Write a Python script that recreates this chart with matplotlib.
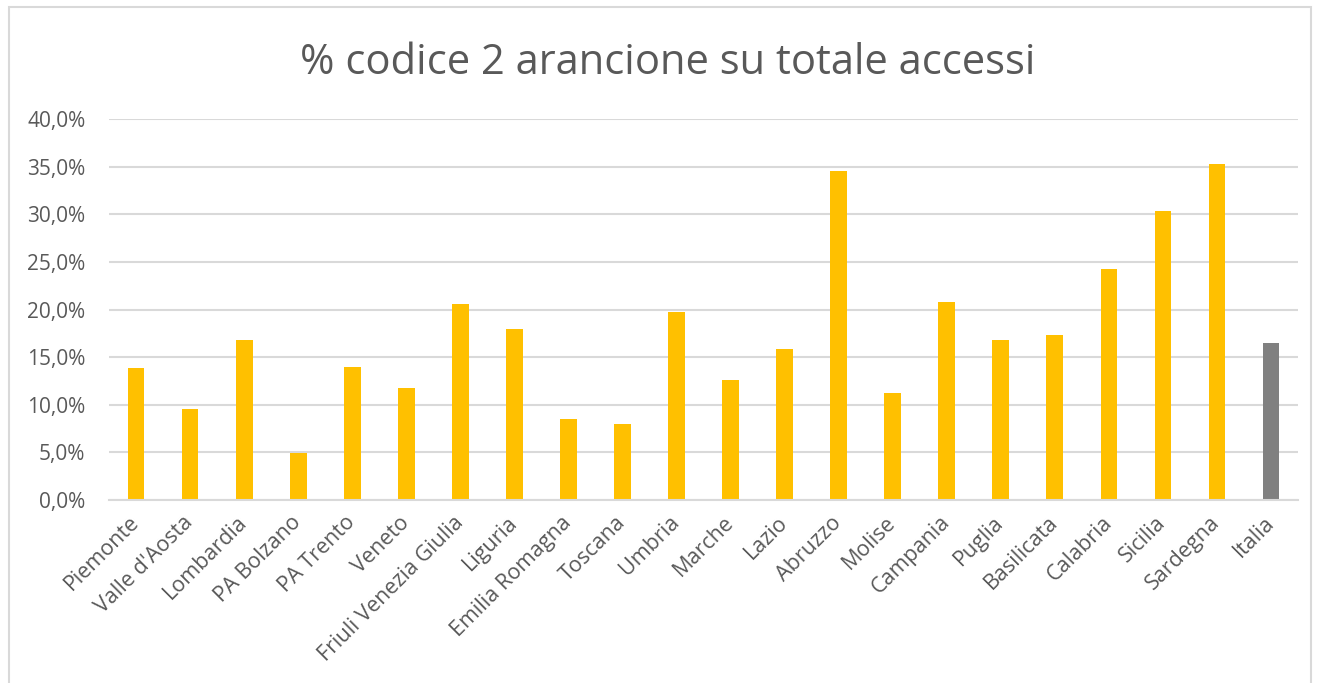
import matplotlib
matplotlib.use("Agg")
import matplotlib.pyplot as plt
from matplotlib.patches import Rectangle
from matplotlib.ticker import FuncFormatter

plt.rcParams['font.family'] = ['Open Sans', 'DejaVu Sans']

regioni = ["Piemonte", "Valle d'Aosta", "Lombardia", "PA Bolzano", "PA Trento",
           "Veneto", "Friuli Venezia Giulia", "Liguria", "Emilia Romagna",
           "Toscana", "Umbria", "Marche", "Lazio", "Abruzzo", "Molise",
           "Campania", "Puglia", "Basilicata", "Calabria", "Sicilia",
           "Sardegna", "Italia"]
perc_codice2 = [13.9, 9.6, 16.8, 4.9, 14.0, 11.8, 20.6, 18.0, 8.5, 8.0, 19.7,
                12.6, 15.9, 34.5, 11.2, 20.8, 16.8, 17.3, 24.3, 30.3, 35.3, 16.5]

colori = ['#FFC000'] * (len(regioni) - 1) + ['#808080']
testo = '#595959'
griglia = '#D9D9D9'

fig = plt.figure(figsize=(13.17, 6.83), dpi=100)
ax = fig.add_axes([0.0828, 0.2679, 0.9028, 0.5579])

x = range(len(regioni))
ax.bar(x, [v / 100 for v in perc_codice2], width=0.31, color=colori, zorder=3)

ax.set_xlim(-0.5, len(regioni) - 0.5)
ax.set_ylim(0, 0.40)
ax.set_yticks([i * 0.05 for i in range(9)])
ax.yaxis.set_major_formatter(FuncFormatter(lambda v, p: f"{v*100:.1f}%".replace('.', ',')))
ax.grid(axis='y', color=griglia, linewidth=1.5, zorder=0)

for s in ['top', 'right', 'left']:
    ax.spines[s].set_visible(False)
ax.spines['bottom'].set_color(griglia)
ax.spines['bottom'].set_linewidth(1.5)
ax.spines['bottom'].set_zorder(4)

ax.tick_params(axis='both', length=0, labelsize=15, labelcolor=testo)
ax.tick_params(axis='y', pad=17)
ax.set_xticks(list(x))
ax.set_xticklabels(regioni, rotation=45, ha='right', va='center',
                   rotation_mode='anchor', fontsize=15.5)
ax.tick_params(axis='x', pad=14)

fig.text(0.507, 0.908, "% codice 2 arancione su totale accessi", ha='center',
         va='center', fontsize=30, color=testo)

# cornice del grafico
fig.patches.append(Rectangle((0.0068, -0.02), 0.9886, 1.0098, transform=fig.transFigure,
                             fill=False, edgecolor=griglia, linewidth=1.5))

fig.savefig("out.png", dpi=100)
